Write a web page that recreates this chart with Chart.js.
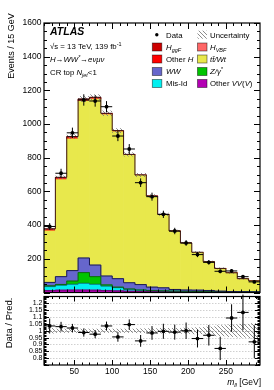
<!DOCTYPE html>
<html>
<head>
<meta charset="utf-8">
<script src="https://cdn.jsdelivr.net/npm/chart.js@4.4.0/dist/chart.umd.min.js"></script>
<style>
  html, body { margin: 0; padding: 0; background: #fff; }
  #wrap { position: relative; width: 274px; height: 390px; }
  canvas { position: absolute; left: 0; top: 0; }
</style>
</head>
<body>
<div id="wrap">
  <canvas id="mainChart" width="274" height="390"></canvas>
  <canvas id="ratioChart" width="274" height="390"></canvas>
</div>
<script>
// m_ll bins, 15 GeV wide from 10 to 295 GeV
const binCenters = [17.5, 32.5, 47.5, 62.5, 77.5, 92.5, 107.5, 122.5, 137.5, 152.5, 167.5, 182.5, 197.5, 212.5, 227.5, 242.5, 257.5, 272.5, 287.5];
const binHalf = 7.5;

const dataEvents = [392, 708, 948, 1143, 1137, 1103, 929, 852, 652, 569, 464, 365, 294, 225, 179, 126, 128, 94, 63];

// stacked backgrounds, bottom to top
const otherVV = [12, 14, 15, 15, 14, 12, 10, 8, 7, 6, 5, 4, 3, 3, 2, 2, 2, 1, 1];
const misId   = [23, 29, 34, 40, 35, 26, 19, 11, 7, 5, 4, 4, 4, 3, 3, 2, 1, 2, 1];
const zGamma  = [5, 5, 19, 63, 45, 7, 3, 2, 1, 1, 1, 0, 0, 0, 0, 0, 0, 0, 0];
const ww      = [20, 46, 62, 87, 69, 53, 50, 37, 32, 20, 18, 10, 8, 8, 7, 4, 3, 2, 2];
const ttWt    = [306, 576, 782, 932, 986, 959, 873, 759, 648, 539, 435, 346, 279, 225, 171, 135, 111, 77, 65];
const otherH  = [4, 4, 4, 3, 3, 2, 2, 1, 1, 1, 0, 0, 0, 0, 0, 0, 0, 0, 0];
const hVBF    = [1, 1, 1, 1, 1, 1, 1, 0, 0, 0, 0, 0, 0, 0, 0, 0, 0, 0, 0];
const hggF    = [7, 9, 9, 8, 6, 4, 3, 2, 2, 1, 1, 1, 0, 0, 0, 0, 0, 0, 0];

// relative uncertainty of the prediction
const relUnc = [0.02, 0.015, 0.015, 0.015, 0.015, 0.015, 0.015, 0.015, 0.017, 0.018, 0.02, 0.02, 0.022, 0.025, 0.03, 0.04, 0.045, 0.05, 0.055];

// ratio panel
const ratioVals = [1.035, 1.03, 1.02, 0.987, 0.975, 1.035, 0.955, 1.045, 0.926, 0.984, 0.996, 0.99, 1.0, 0.943, 0.967, 0.871, 1.093, 1.134, 0.919];
const ratioErr  = [0.054, 0.035, 0.03, 0.03, 0.03, 0.032, 0.035, 0.038, 0.043, 0.05, 0.055, 0.055, 0.06, 0.065, 0.075, 0.085, 0.1, 0.13, 0.12];

const xTickLabels = [50, 100, 150, 200, 250];
const yTickLabels = [200, 400, 600, 800, 1000, 1200, 1400, 1600];
const ratioTickLabels = ['0.8', '0.85', '0.9', '0.95', '1', '1.05', '1.1', '1.15', '1.2'];

const FONT = '"Liberation Sans", Arial, Helvetica, sans-serif';

const colors = {
  vv: '#b300b3', mis: '#00f0f0', z: '#00c400', ww: '#6666cc',
  tt: '#e8e84c', oh: '#ff0000', vbf: '#ff6666', ggf: '#cc0000'
};

function pts(arr) {
  return binCenters.map((x, i) => ({ x: x, y: arr[i] }));
}

function makeHatch() {
  const c = document.createElement('canvas');
  c.width = 4; c.height = 4;
  const g = c.getContext('2d');
  g.strokeStyle = 'rgba(120,120,120,0.85)';
  g.lineWidth = 1;
  g.beginPath();
  g.moveTo(-1, -1); g.lineTo(5, 5);
  g.moveTo(-1, 3); g.lineTo(1, 5);
  g.moveTo(3, -1); g.lineTo(5, 1);
  g.stroke();
  return c;
}
const hatchCanvas = makeHatch();

// text with italic / sub / sup pieces
function rich(ctx, x, y, parts, size, align) {
  let w = 0;
  const seg = parts.map(p => {
    const s = (p.sub || p.sup) ? size * 0.7 : size;
    const f = (p.it ? 'italic ' : '') + (p.b ? 'bold ' : '') + s + 'px ' + FONT;
    ctx.font = f;
    const m = ctx.measureText(p.t).width;
    w += m;
    return { p, f, m };
  });
  let cx = align === 'right' ? x - w : x;
  ctx.textAlign = 'left';
  ctx.textBaseline = 'alphabetic';
  seg.forEach(r => {
    ctx.font = r.f;
    const dy = r.p.sub ? size * 0.3 : (r.p.sup ? -size * 0.4 : 0);
    ctx.fillText(r.p.t, cx, y + dy);
    cx += r.m;
  });
}

// ROOT style frame with inside ticks
function drawFrame(chart, xMinor, xMajor, yList, yMajorTest, majLen, minLen) {
  const { ctx, chartArea: a, scales } = chart;
  const xs = scales.x, ys = scales.y;
  ctx.save();
  ctx.strokeStyle = '#000';
  ctx.lineWidth = 1;
  ctx.beginPath();
  for (let v = 10; v <= 295; v += xMinor) {
    const px = Math.round(xs.getPixelForValue(v)) + 0.5;
    const len = v % xMajor === 0 ? majLen : minLen;
    ctx.moveTo(px, a.bottom); ctx.lineTo(px, a.bottom - len);
    ctx.moveTo(px, a.top); ctx.lineTo(px, a.top + len);
  }
  yList.forEach(v => {
    const py = Math.round(ys.getPixelForValue(v)) + 0.5;
    const len = yMajorTest(v) ? majLen : minLen;
    ctx.moveTo(a.left, py); ctx.lineTo(a.left + len, py);
    ctx.moveTo(a.right, py); ctx.lineTo(a.right - len, py);
  });
  ctx.stroke();
  ctx.lineWidth = 1.2;
  ctx.strokeRect(a.left, a.top, a.right - a.left, a.bottom - a.top);
  ctx.restore();
}

function stepLine(ctx, xs, ys, tops, color, width) {
  ctx.save();
  ctx.strokeStyle = color;
  ctx.lineWidth = width;
  ctx.beginPath();
  binCenters.forEach((c, i) => {
    const x0 = xs.getPixelForValue(c - binHalf);
    const x1 = xs.getPixelForValue(c + binHalf);
    const y = ys.getPixelForValue(tops[i]);
    if (i === 0) ctx.moveTo(x0, y); else ctx.lineTo(x0, y);
    ctx.lineTo(x1, y);
  });
  ctx.stroke();
  ctx.restore();
}

const stackOrder = [otherVV, misId, zGamma, ww, ttWt, otherH, hVBF, hggF];
function cumulative(n) {
  return binCenters.map((c, i) => {
    let s = 0;
    for (let k = 0; k < n; k++) s += stackOrder[k][i];
    return s;
  });
}

const mainPlugin = {
  id: 'mainDeco',
  beforeDatasetDraw(chart, args) {
    if (args.index !== 0) return;
    const { ctx, scales } = chart;
    const xs = scales.x, ys = scales.y;
    const total = cumulative(8);
    // uncertainty band
    ctx.save();
    ctx.fillStyle = ctx.createPattern(hatchCanvas, 'repeat');
    binCenters.forEach((c, i) => {
      const x0 = xs.getPixelForValue(c - binHalf);
      const x1 = xs.getPixelForValue(c + binHalf);
      const y0 = ys.getPixelForValue(total[i] * (1 + relUnc[i]));
      const y1 = ys.getPixelForValue(total[i] * (1 - relUnc[i]));
      ctx.fillRect(x0, y0, x1 - x0, Math.max(1.5, y1 - y0));
    });
    ctx.restore();
    // outlines of the stack
    stepLine(ctx, xs, ys, cumulative(1), '#5a005a', 0.8);
    stepLine(ctx, xs, ys, cumulative(2), '#105050', 0.8);
    stepLine(ctx, xs, ys, cumulative(3), '#105010', 0.8);
    stepLine(ctx, xs, ys, cumulative(4), '#1c1c50', 1);
    stepLine(ctx, xs, ys, total, '#3a1010', 1);
    // data error bars
    ctx.save();
    ctx.strokeStyle = '#000';
    ctx.lineWidth = 1;
    ctx.beginPath();
    binCenters.forEach((c, i) => {
      const e = Math.sqrt(dataEvents[i]);
      const px = xs.getPixelForValue(c);
      const py = ys.getPixelForValue(dataEvents[i]);
      ctx.moveTo(xs.getPixelForValue(c - binHalf), py);
      ctx.lineTo(xs.getPixelForValue(c + binHalf), py);
      ctx.moveTo(px, ys.getPixelForValue(dataEvents[i] - e));
      ctx.lineTo(px, ys.getPixelForValue(dataEvents[i] + e));
    });
    ctx.stroke();
    ctx.restore();
  },
  afterDraw(chart) {
    const { ctx, chartArea: a, scales } = chart;
    const ys = scales.y;
    const yl = [];
    for (let v = 0; v <= 1600; v += 50) yl.push(v);
    drawFrame(chart, 10, 50, yl, v => v % 200 === 0, 6, 3);

    ctx.save();
    ctx.fillStyle = '#000';
    ctx.font = '8.5px ' + FONT;
    ctx.textAlign = 'right';
    ctx.textBaseline = 'middle';
    yTickLabels.forEach(v => ctx.fillText(String(v), a.left - 2.5, ys.getPixelForValue(v)));

    // y title
    ctx.save();
    ctx.translate(12, 46);
    ctx.rotate(-Math.PI / 2);
    ctx.font = '9px ' + FONT;
    ctx.textAlign = 'center';
    ctx.textBaseline = 'middle';
    ctx.fillText('Events / 15 GeV', 0, 0);
    ctx.restore();

    // ATLAS block
    rich(ctx, 50, 34.5, [{ t: 'ATLAS', it: true, b: true }], 10.5);
    rich(ctx, 50, 49, [{ t: '\u221As', it: false }, { t: ' = 13 TeV, 139 fb' }, { t: '-1', sup: true }], 7.8);
    rich(ctx, 50, 61.7, [{ t: 'H\u2192WW', it: true }, { t: '*', sup: true, it: true }, { t: '\u2192e\u03BD\u03BC\u03BD', it: true }], 7.8);
    rich(ctx, 50, 75, [{ t: 'CR top ' }, { t: 'N', it: true }, { t: 'jet', sub: true, it: true }, { t: '<1' }], 7.8);

    // legend
    const rows = [34.7, 47, 59, 71.5, 83.5];
    const fs = 7.8;
    const box = (x, yc, col) => {
      ctx.fillStyle = col;
      ctx.fillRect(x, yc - 4, 9.5, 8);
      ctx.strokeStyle = 'rgba(0,0,0,0.55)';
      ctx.lineWidth = 0.8;
      ctx.strokeRect(x, yc - 4, 9.5, 8);
      ctx.fillStyle = '#000';
    };
    ctx.fillStyle = '#000';
    ctx.beginPath();
    ctx.arc(156.8, rows[0], 1.7, 0, Math.PI * 2);
    ctx.fill();
    rich(ctx, 166, rows[0] + 2.8, [{ t: 'Data' }], fs);
    ctx.fillStyle = ctx.createPattern(hatchCanvas, 'repeat');
    ctx.fillRect(197.5, rows[0] - 4, 9.5, 8);
    ctx.fillStyle = '#000';
    rich(ctx, 210, rows[0] + 2.8, [{ t: 'Uncertainty' }], fs);

    box(152.3, rows[1], colors.ggf);
    rich(ctx, 166, rows[1] + 2.8, [{ t: 'H', it: true }, { t: 'ggF', sub: true, it: true }], fs);
    box(197.5, rows[1], colors.vbf);
    rich(ctx, 210, rows[1] + 2.8, [{ t: 'H', it: true }, { t: 'VBF', sub: true, it: true }], fs);

    box(152.3, rows[2], colors.oh);
    rich(ctx, 166, rows[2] + 2.8, [{ t: 'Other ' }, { t: 'H', it: true }], fs);
    box(197.5, rows[2], colors.tt);
    rich(ctx, 210, rows[2] + 2.8, [{ t: 't\u0074\u0304/Wt', it: true }], fs);

    box(152.3, rows[3], colors.ww);
    rich(ctx, 166, rows[3] + 2.8, [{ t: 'WW', it: true }], fs);
    box(197.5, rows[3], colors.z);
    rich(ctx, 210, rows[3] + 2.8, [{ t: 'Z/\u03B3', it: true }, { t: '*', sup: true, it: true }], fs);

    box(152.3, rows[4], colors.mis);
    rich(ctx, 166, rows[4] + 2.8, [{ t: 'Mis-Id' }], fs);
    box(197.5, rows[4], colors.vv);
    rich(ctx, 210, rows[4] + 2.8, [{ t: 'Other ' }, { t: 'VV', it: true }, { t: '(' }, { t: 'V', it: true }, { t: ')' }], fs);
    ctx.restore();
  }
};

const bar = (label, arr, col) => ({
  type: 'bar', label: label, data: pts(arr), backgroundColor: col,
  borderWidth: 0, stack: 'mc', barPercentage: 1, categoryPercentage: 1
});

new Chart(document.getElementById('mainChart'), {
  type: 'bar',
  data: {
    datasets: [
      { type: 'scatter', label: 'Data', data: pts(dataEvents), stack: 'data',
        pointRadius: 1.9, pointBackgroundColor: '#000', pointBorderWidth: 0, showLine: false },
      bar('Other VV(V)', otherVV, colors.vv),
      bar('Mis-Id', misId, colors.mis),
      bar('Z/gamma*', zGamma, colors.z),
      bar('WW', ww, colors.ww),
      bar('tt/Wt', ttWt, colors.tt),
      bar('Other H', otherH, colors.oh),
      bar('H VBF', hVBF, colors.vbf),
      bar('H ggF', hggF, colors.ggf)
    ]
  },
  options: {
    responsive: false,
    animation: false,
    events: [],
    layout: { padding: { left: 44, right: 14, top: 23, bottom: 97.5 } },
    plugins: { legend: { display: false }, tooltip: { enabled: false } },
    scales: {
      x: { type: 'linear', min: 10, max: 295, offset: false, stacked: true, display: false },
      y: { min: 0, max: 1600, stacked: true, display: false }
    }
  },
  plugins: [mainPlugin]
});

const ratioPlugin = {
  id: 'ratioDeco',
  beforeDatasetsDraw(chart) {
    const { ctx, chartArea: a, scales } = chart;
    const xs = scales.x, ys = scales.y;
    ctx.save();
    // dotted grid
    ctx.lineWidth = 0.8;
    ctx.setLineDash([1.5, 1.5]);
    for (let i = 80; i <= 120; i += 5) {
      const py = Math.round(ys.getPixelForValue(i / 100)) + 0.5;
      ctx.strokeStyle = i === 100 ? '#888' : '#c4c4c4';
      ctx.beginPath();
      ctx.moveTo(a.left, py); ctx.lineTo(a.right, py);
      ctx.stroke();
    }
    ctx.setLineDash([]);
    // uncertainty band
    ctx.fillStyle = ctx.createPattern(hatchCanvas, 'repeat');
    binCenters.forEach((c, i) => {
      const x0 = xs.getPixelForValue(c - binHalf);
      const x1 = xs.getPixelForValue(c + binHalf);
      const y0 = ys.getPixelForValue(1 + relUnc[i]);
      const y1 = ys.getPixelForValue(1 - relUnc[i]);
      ctx.fillRect(x0, y0, x1 - x0, y1 - y0);
    });
    // error bars
    ctx.strokeStyle = '#000';
    ctx.lineWidth = 1;
    ctx.beginPath();
    binCenters.forEach((c, i) => {
      const px = xs.getPixelForValue(c);
      const py = ys.getPixelForValue(ratioVals[i]);
      ctx.moveTo(xs.getPixelForValue(c - binHalf), py);
      ctx.lineTo(xs.getPixelForValue(c + binHalf), py);
      ctx.moveTo(px, ys.getPixelForValue(ratioVals[i] - ratioErr[i]));
      ctx.lineTo(px, ys.getPixelForValue(ratioVals[i] + ratioErr[i]));
    });
    ctx.stroke();
    ctx.restore();
  },
  afterDraw(chart) {
    const { ctx, chartArea: a, scales } = chart;
    const xs = scales.x, ys = scales.y;
    const yl = [];
    for (let i = 75; i <= 125; i++) yl.push(i / 100);
    drawFrame(chart, 10, 50, yl, v => Math.round(v * 100) % 5 === 0, 5, 2.5);

    ctx.save();
    ctx.fillStyle = '#000';
    ctx.font = '7px ' + FONT;
    ctx.textAlign = 'right';
    ctx.textBaseline = 'middle';
    ratioTickLabels.forEach(t => ctx.fillText(t, a.left - 1.5, ys.getPixelForValue(parseFloat(t))));

    ctx.font = '8.5px ' + FONT;
    ctx.textAlign = 'center';
    ctx.textBaseline = 'alphabetic';
    xTickLabels.forEach(v => ctx.fillText(String(v), xs.getPixelForValue(v), 374));

    rich(ctx, 261, 384.5, [{ t: 'm', it: true }, { t: 'll', sub: true, it: true }, { t: ' [GeV]' }], 8.5, 'right');

    ctx.save();
    ctx.translate(9, 323);
    ctx.rotate(-Math.PI / 2);
    ctx.font = '9.5px ' + FONT;
    ctx.textAlign = 'center';
    ctx.textBaseline = 'middle';
    ctx.fillText('Data / Pred.', 0, 0);
    ctx.restore();
    ctx.restore();
  }
};

new Chart(document.getElementById('ratioChart'), {
  type: 'scatter',
  data: {
    datasets: [{ label: 'Data / Pred.', data: pts(ratioVals), pointRadius: 1.9,
      pointBackgroundColor: '#000', pointBorderWidth: 0 }]
  },
  options: {
    responsive: false,
    animation: false,
    events: [],
    layout: { padding: { left: 44, right: 14, top: 296.5, bottom: 25 } },
    plugins: { legend: { display: false }, tooltip: { enabled: false } },
    scales: {
      x: { type: 'linear', min: 10, max: 295, display: false },
      y: { min: 0.75, max: 1.25, display: false }
    }
  },
  plugins: [ratioPlugin]
});
</script>
</body>
</html>
